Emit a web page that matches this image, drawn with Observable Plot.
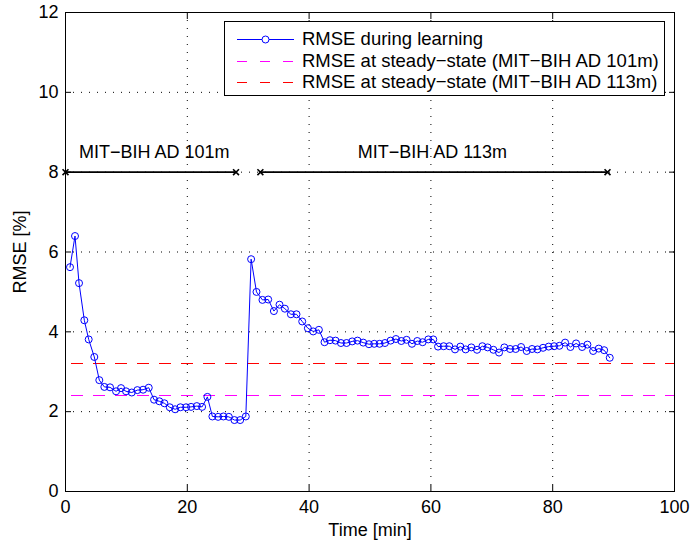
<!DOCTYPE html>
<html><head><meta charset="utf-8">
<script src="https://cdn.jsdelivr.net/npm/d3@7"></script>
<script src="https://cdn.jsdelivr.net/npm/@observablehq/plot@0.6"></script>
<style>
body{margin:0;background:#fff;}
#wrap{position:relative;width:691px;height:541px;font-family:"Liberation Sans",Arial,Helvetica,sans-serif;}
#legend{position:absolute;left:224px;top:21px;width:441px;height:75px;border:1px solid #000;background:#fff;box-sizing:border-box;}
.row{position:absolute;left:0;height:21px;display:flex;align-items:center;font-size:18.5px;white-space:nowrap;color:#000;}
.row svg{margin-left:12px;margin-right:8px;}
</style></head><body><div id="wrap"></div>
<script>
// Data
const time = [0.74,1.56,2.22,3.09,3.81,4.73,5.55,6.38,7.31,8.30,9.12,9.94,10.88,11.80,12.74,13.67,14.54,15.41,16.24,17.12,18.0,18.87,19.80,20.62,21.56,22.43,23.30,24.12,25.06,25.93,26.82,27.74,28.68,29.61,
  30.48,31.36,32.34,33.28,34.22,35.14,36.02,37.01,37.93,38.87,39.80,40.67,41.61,42.53,43.42,44.34,45.23,46.15,47.08,47.95,48.89,49.83,50.70,51.57,52.46,53.38,54.26,55.14,56.01,56.89,
  57.76,58.64,59.57,60.39,61.17,62.09,63.02,63.96,64.83,65.70,66.64,67.58,68.45,69.32,70.26,71.19,72.06,73.0,73.92,74.81,75.73,76.61,77.49,78.42,79.34,80.23,81.10,82.04,82.91,83.84,
  84.83,85.70,86.64,87.56,88.45,89.37];
const rmse = [5.62,6.4,5.22,4.29,3.81,3.37,2.79,2.62,2.61,2.51,2.59,2.51,2.48,2.54,2.55,2.6,2.3,2.26,2.21,2.11,2.06,2.11,2.11,2.12,2.14,2.12,2.37,1.88,1.87,1.88,1.87,1.79,1.79,1.88,
  5.82,5.0,4.8,4.81,4.52,4.68,4.58,4.44,4.44,4.26,4.09,4.01,4.05,3.74,3.79,3.78,3.72,3.72,3.76,3.78,3.73,3.69,3.7,3.7,3.72,3.78,3.82,3.77,3.8,3.7,
  3.77,3.74,3.81,3.81,3.63,3.64,3.64,3.56,3.63,3.56,3.61,3.55,3.64,3.61,3.55,3.48,3.61,3.57,3.57,3.62,3.52,3.57,3.56,3.6,3.63,3.64,3.65,3.73,3.62,3.71,
  3.62,3.68,3.52,3.58,3.54,3.35];
const seriesLabel = "RMSE during learning";
const steadyLabels = ["RMSE at steady−state (MIT−BIH AD 101m)", "RMSE at steady−state (MIT−BIH AD 113m)"];
const steadyValues = [2.4, 3.2];
const steadyColors = ["#ff00ff", "#ff0000"];
const segLabels = ["MIT−BIH AD 101m", "MIT−BIH AD 113m"];
const segStart = [0, 32];
const segEnd = [28, 89];
const segLabelX = [2.2, 48];
const segY = 8;
const segLabelY = 8.5;
const xTicks = [0, 20, 40, 60, 80, 100];
const yTicks = [0, 2, 4, 6, 8, 10, 12];
const xLabel = "Time [min]";
const yLabel = "RMSE [%]";

const pts = time.map((t, i) => ({t, v: rmse[i]}));
const steady = steadyValues.map((v, i) => ({v, c: steadyColors[i]}));
const segs = segLabels.map((l, i) => ({l, s: segStart[i], e: segEnd[i], lx: segLabelX[i]}));
const segEnds = segs.flatMap(d => [d.s, d.e]);

const blank = () => "";
const chart = Plot.plot({
  width: 691, height: 541,
  marginLeft: 65, marginRight: 17, marginTop: 12, marginBottom: 50,
  style: {fontFamily: '"Liberation Sans", Arial, Helvetica, sans-serif', fontSize: "18px", background: "#fff", color: "#000"},
  x: {domain: [0, 100]},
  y: {domain: [0, 12]},
  color: {type: "identity"},
  marks: [
    Plot.gridX(xTicks, {stroke: "#000", strokeOpacity: 1, strokeDasharray: "1,7"}),
    Plot.gridY(yTicks, {stroke: "#000", strokeOpacity: 1, strokeDasharray: "1,7"}),
    Plot.ruleY(steady, {y: "v", stroke: "c", strokeWidth: 1, strokeDasharray: "12,10", strokeDashoffset: 16, shapeRendering: "crispEdges"}),
    Plot.ruleY(segs, {y: () => segY, x1: "s", x2: "e", stroke: "#000", strokeWidth: 1.6}),
    Plot.dot(segEnds, {x: d => d, y: () => segY, symbol: "times", r: 2.8, stroke: "#000", strokeWidth: 1.6}),
    Plot.text(segs, {x: "lx", y: () => segLabelY, text: "l", textAnchor: "start", fontSize: 18, fill: "#000"}),
    Plot.line(pts, {x: "t", y: "v", stroke: "#0000ff", strokeWidth: 1}),
    Plot.dot(pts, {x: "t", y: "v", r: 3.5, stroke: "#0000ff", strokeWidth: 1, fill: "none"}),
    Plot.frame({stroke: "#000", strokeWidth: 1}),
    Plot.axisX(xTicks, {anchor: "bottom", tickSize: 0, tickPadding: 9, fontSize: 18, label: xLabel, labelAnchor: "center", labelOffset: 44, labelArrow: "none"}),
    Plot.axisX(xTicks, {anchor: "bottom", tickSize: 6, dy: -6, tickFormat: blank, label: null}),
    Plot.axisX(xTicks, {anchor: "top", tickSize: 6, dy: 6, tickFormat: blank, label: null}),
    Plot.axisY(yTicks, {anchor: "left", tickSize: 0, tickPadding: 7, fontSize: 18, label: yLabel, labelAnchor: "center", labelOffset: 52, labelArrow: "none"}),
    Plot.axisY(yTicks, {anchor: "left", tickSize: 6, dx: 6, tickFormat: blank, label: null}),
    Plot.axisY(yTicks, {anchor: "right", tickSize: 6, dx: -6, tickFormat: blank, label: null})
  ]
});
const wrap = document.getElementById("wrap");
wrap.appendChild(chart);

// Legend overlay
const legend = document.createElement("div");
legend.id = "legend";
const rowsTop = [6, 28, 49];
const items = [
  {label: seriesLabel, color: "#0000ff", dash: null, marker: true},
  {label: steadyLabels[0], color: steadyColors[0], dash: "10,13", marker: false},
  {label: steadyLabels[1], color: steadyColors[1], dash: "10,13", marker: false}
];
items.forEach((it, i) => {
  const row = document.createElement("div");
  row.className = "row";
  row.style.top = rowsTop[i] + "px";
  const ns = "http://www.w3.org/2000/svg";
  const s = document.createElementNS(ns, "svg");
  s.setAttribute("width", 57); s.setAttribute("height", 12);
  const ln = document.createElementNS(ns, "line");
  ln.setAttribute("x1", 0); ln.setAttribute("x2", 57); ln.setAttribute("y1", 6.5); ln.setAttribute("y2", 6.5);
  ln.setAttribute("stroke", it.color); ln.setAttribute("stroke-width", 1);
  if (it.dash) ln.setAttribute("stroke-dasharray", it.dash);
  s.appendChild(ln);
  if (it.marker) {
    const c = document.createElementNS(ns, "circle");
    c.setAttribute("cx", 28.5); c.setAttribute("cy", 6.5); c.setAttribute("r", 3.5);
    c.setAttribute("fill", "#fff"); c.setAttribute("stroke", it.color);
    s.appendChild(c);
  }
  row.appendChild(s);
  const sp = document.createElement("span");
  sp.textContent = it.label;
  row.appendChild(sp);
  legend.appendChild(row);
});
wrap.appendChild(legend);
</script>
</body></html>
